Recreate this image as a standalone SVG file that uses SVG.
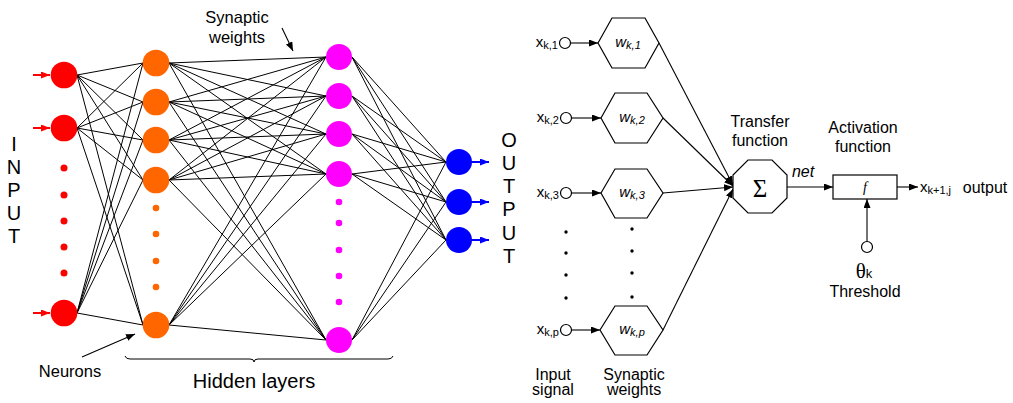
<svg xmlns="http://www.w3.org/2000/svg" width="1013" height="403" viewBox="0 0 1013 403">
<style>
text{font-family:"Liberation Sans",Arial,sans-serif;fill:#000}
.lbl{font-size:16px;text-anchor:middle}
.big{font-size:20px;text-anchor:middle}
.w{stroke:#000;stroke-width:1;fill:none}
.ln{stroke:#000;stroke-width:1.1;fill:none}
.shape{fill:#fff;stroke:#000;stroke-width:1.2}
.red{fill:#ff0000}.org{fill:#ff6600}.mag{fill:#ff00ff}.blu{fill:#0000ff}
.xl{font-size:15px;text-anchor:end}
</style>
<defs>
<marker id="ak" markerUnits="userSpaceOnUse" markerWidth="10" markerHeight="8" refX="9" refY="3.5" orient="auto"><path d="M0,0 L9,3.5 L0,7 z" fill="#000"/></marker>
<marker id="ar" markerUnits="userSpaceOnUse" markerWidth="10" markerHeight="8" refX="9" refY="3.5" orient="auto"><path d="M0,0 L9,3.5 L0,7 z" fill="#ff0000"/></marker>
<marker id="ab" markerUnits="userSpaceOnUse" markerWidth="10" markerHeight="8" refX="9" refY="3.5" orient="auto"><path d="M0,0 L9,3.5 L0,7 z" fill="#0000ff"/></marker>
</defs>

<g id="connectors">
<path class="w" d="M77 75L143 63M77 75L143 102M77 75L143 140M77 75L143 180M77 75L143 325M77 128L143 63M77 128L143 102M77 128L143 140M77 128L143 180M77 128L143 325M77 313L143 63M77 313L143 102M77 313L143 140M77 313L143 180M77 313L143 325"/>
<path class="w" d="M169 63L326 57M169 63L326 96M169 63L326 134M169 63L326 174M169 63L326 340M169 102L326 57M169 102L326 96M169 102L326 134M169 102L326 174M169 102L326 340M169 140L326 57M169 140L326 96M169 140L326 134M169 140L326 174M169 140L326 340M169 180L326 57M169 180L326 96M169 180L326 134M169 180L326 174M169 180L326 340M169 325L326 57M169 325L326 96M169 325L326 134M169 325L326 174M169 325L326 340"/>
<path class="w" d="M352 57L446 162M352 57L446 202M352 57L446 240M352 96L446 162M352 96L446 202M352 96L446 240M352 134L446 162M352 134L446 202M352 134L446 240M352 174L446 162M352 174L446 202M352 174L446 240M352 340L446 162M352 340L446 202M352 340L446 240"/>
<line x1="33" y1="75" x2="50" y2="75" stroke="#ff0000" stroke-width="2" marker-end="url(#ar)"/>
<line x1="33" y1="128" x2="50" y2="128" stroke="#ff0000" stroke-width="2" marker-end="url(#ar)"/>
<line x1="33" y1="313" x2="50" y2="313" stroke="#ff0000" stroke-width="2" marker-end="url(#ar)"/>
<line x1="471" y1="162" x2="489" y2="162" stroke="#0000ff" stroke-width="2" marker-end="url(#ab)"/>
<line x1="471" y1="202" x2="489" y2="202" stroke="#0000ff" stroke-width="2" marker-end="url(#ab)"/>
<line x1="471" y1="240" x2="489" y2="240" stroke="#0000ff" stroke-width="2" marker-end="url(#ab)"/>
<line class="ln" x1="282" y1="28" x2="293" y2="51" marker-end="url(#ak)"/>
<line class="ln" x1="82" y1="357" x2="135" y2="334" marker-end="url(#ak)"/>
<path class="w" d="M125 356Q126 359 130 359L250 359Q254 359 254 362Q254 359 258 359L388 359Q392 359 393 356"/>
<line class="ln" x1="570.5" y1="43" x2="598" y2="43" marker-end="url(#ak)"/>
<line class="ln" x1="571.5" y1="118" x2="601" y2="118" marker-end="url(#ak)"/>
<line class="ln" x1="571.5" y1="193" x2="601" y2="193" marker-end="url(#ak)"/>
<line class="ln" x1="571.5" y1="330" x2="600" y2="330" marker-end="url(#ak)"/>
<line class="ln" x1="659" y1="43" x2="733" y2="185" marker-end="url(#ak)"/>
<line class="ln" x1="663" y1="118" x2="733" y2="186" marker-end="url(#ak)"/>
<line class="ln" x1="663" y1="193" x2="733" y2="187" marker-end="url(#ak)"/>
<line class="ln" x1="663" y1="330" x2="733" y2="189" marker-end="url(#ak)"/>
<line class="ln" x1="787" y1="187" x2="833" y2="187" marker-end="url(#ak)"/>
<line class="ln" x1="897" y1="187" x2="918" y2="187" marker-end="url(#ak)"/>
<line class="ln" x1="867" y1="241.5" x2="867" y2="199" marker-end="url(#ak)"/>
</g>

<g id="input-layer">
<circle class="red" cx="64" cy="75" r="13.3"/>
<circle class="red" cx="64" cy="128" r="13.3"/>
<circle class="red" cx="64" cy="168" r="3.5"/>
<circle class="red" cx="64" cy="195" r="3.5"/>
<circle class="red" cx="64" cy="221" r="3.5"/>
<circle class="red" cx="64" cy="247" r="3.5"/>
<circle class="red" cx="64" cy="273" r="3.5"/>
<circle class="red" cx="64" cy="313" r="13.3"/>
</g>
<g id="hidden-layer-1">
<circle class="org" cx="156" cy="63" r="13.3"/>
<circle class="org" cx="156" cy="102" r="13.3"/>
<circle class="org" cx="156" cy="140" r="13.3"/>
<circle class="org" cx="156" cy="180" r="13.3"/>
<circle class="org" cx="156" cy="208" r="3.3"/>
<circle class="org" cx="156" cy="234" r="3.3"/>
<circle class="org" cx="156" cy="261" r="3.3"/>
<circle class="org" cx="156" cy="287" r="3.3"/>
<circle class="org" cx="156" cy="325" r="13.3"/>
</g>
<g id="hidden-layer-2">
<circle class="mag" cx="339" cy="57" r="13"/>
<circle class="mag" cx="339" cy="96" r="13"/>
<circle class="mag" cx="339" cy="134" r="13"/>
<circle class="mag" cx="339" cy="174" r="13"/>
<circle class="mag" cx="339" cy="202" r="3.3"/>
<circle class="mag" cx="339" cy="223" r="3.3"/>
<circle class="mag" cx="339" cy="250" r="3.3"/>
<circle class="mag" cx="339" cy="276" r="3.3"/>
<circle class="mag" cx="339" cy="302" r="3.3"/>
<circle class="mag" cx="339" cy="340" r="13"/>
</g>
<g id="output-layer">
<circle class="blu" cx="459" cy="162" r="13"/>
<circle class="blu" cx="459" cy="202" r="13"/>
<circle class="blu" cx="459" cy="240" r="13"/>
</g>

<g id="labels-left">
<text class="big" x="14" y="151">I</text>
<text class="big" x="14" y="174">N</text>
<text class="big" x="14" y="197">P</text>
<text class="big" x="14" y="220">U</text>
<text class="big" x="14" y="243">T</text>
<text class="big" x="509" y="147">O</text>
<text class="big" x="509" y="170">U</text>
<text class="big" x="509" y="193">T</text>
<text class="big" x="509" y="216">P</text>
<text class="big" x="509" y="240">U</text>
<text class="big" x="509" y="263">T</text>
<text x="237" y="23" style="font-size:16.5px;text-anchor:middle">Synaptic</text>
<text x="237" y="43" style="font-size:16.5px;text-anchor:middle">weights</text>
<text x="70" y="377" style="font-size:16.5px;text-anchor:middle">Neurons</text>
<text class="big" x="254" y="388">Hidden layers</text>
</g>

<g id="inputs-right">
<circle class="shape" cx="565" cy="43" r="5.5"/>
<circle class="shape" cx="566" cy="118" r="5.5"/>
<circle class="shape" cx="566" cy="193" r="5.5"/>
<circle class="shape" cx="566" cy="330" r="5.5"/>
<text x="558" y="47" class="xl">x<tspan font-size="11" dy="2">k,1</tspan></text>
<text x="559" y="122" class="xl">x<tspan font-size="11" dy="2">k,2</tspan></text>
<text x="559" y="197" class="xl">x<tspan font-size="11" dy="2">k,3</tspan></text>
<text x="559" y="334" class="xl">x<tspan font-size="11" dy="2">k,p</tspan></text>
<circle cx="566" cy="232" r="1.7"/>
<circle cx="566" cy="253" r="1.7"/>
<circle cx="566" cy="275" r="1.7"/>
<circle cx="566" cy="298" r="1.7"/>
<text class="lbl" x="553" y="380">Input</text>
<text class="lbl" x="553" y="395">signal</text>
</g>

<g id="weights">
<polygon class="shape" points="598,43 612,18 645,18 659,43 645,68 612,68"/>
<polygon class="shape" points="601,118 615,93 647,93 663,118 647,143 615,143"/>
<polygon class="shape" points="601,193 615,169 647,169 663,193 647,218 615,218"/>
<polygon class="shape" points="600,330 615,306 647,306 663,330 647,355 615,355"/>
<text x="628" y="47" style="font-size:15px;font-style:italic;text-anchor:middle">w<tspan font-size="11" dy="2">k,1</tspan></text>
<text x="632" y="122" style="font-size:15px;font-style:italic;text-anchor:middle">w<tspan font-size="11" dy="2">k,2</tspan></text>
<text x="632" y="197" style="font-size:15px;font-style:italic;text-anchor:middle">w<tspan font-size="11" dy="2">k,3</tspan></text>
<text x="632" y="334" style="font-size:15px;font-style:italic;text-anchor:middle">w<tspan font-size="11" dy="2">k,p</tspan></text>
<circle cx="632" cy="229" r="1.7"/>
<circle cx="632" cy="251" r="1.7"/>
<circle cx="632" cy="273" r="1.7"/>
<circle cx="632" cy="297" r="1.7"/>
<text class="lbl" x="634" y="380">Synaptic</text>
<text class="lbl" x="634" y="395">weights</text>
</g>

<g id="transfer">
<polygon class="shape" points="748,160 772,160 787,175 787,198 772,213 748,213 733,198 733,175"/>
<text x="760" y="197" style="font-family:'Liberation Serif',serif;font-size:25px;text-anchor:middle">Σ</text>
<text class="lbl" x="760" y="127">Transfer</text>
<text class="lbl" x="760" y="146">function</text>
<text x="803" y="177" style="font-size:16px;font-style:italic;text-anchor:middle">net</text>
</g>

<g id="activation">
<rect class="shape" x="833" y="175" width="64" height="24"/>
<text x="865" y="192" style="font-family:'Liberation Serif',serif;font-size:14px;font-style:italic;text-anchor:middle">f</text>
<text class="lbl" x="863" y="133">Activation</text>
<text class="lbl" x="863" y="152">function</text>
<text x="920" y="192" style="font-size:15px">x<tspan font-size="11" dy="2">k+1,j</tspan></text>
<text x="985" y="193" class="lbl">output</text>
</g>

<g id="threshold">
<circle class="shape" cx="867" cy="247" r="5.5"/>
<text x="864" y="278" style="font-family:'Liberation Serif',serif;font-size:21px;text-anchor:middle">θ<tspan style="font-family:'Liberation Sans',sans-serif" font-size="13">k</tspan></text>
<text class="lbl" x="865" y="297">Threshold</text>
</g>
</svg>
